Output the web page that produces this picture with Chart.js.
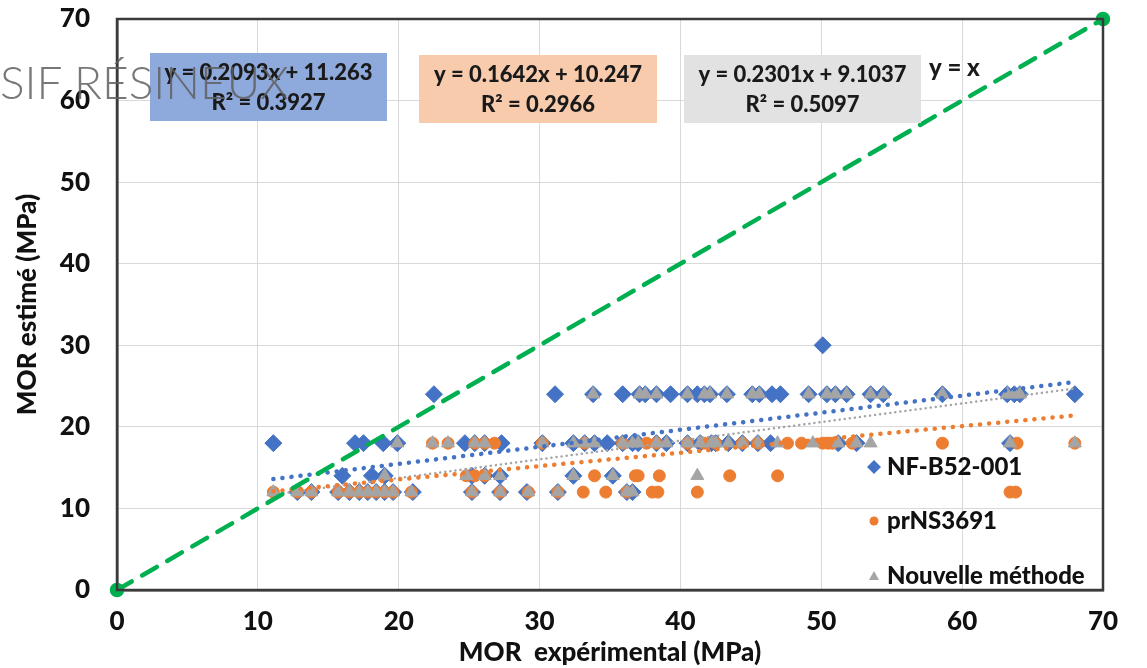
<!DOCTYPE html>
<html lang="fr">
<head>
<meta charset="utf-8">
<title>MOR estimé vs MOR expérimental</title>
<script src="https://cdn.jsdelivr.net/npm/chart.js@4/dist/chart.umd.min.js"></script>
<style>
  html, body { margin: 0; padding: 0; background: #fff; }
  #wrap { position: relative; width: 1147px; height: 668px; }
  #watermark {
    position: absolute; left: 0; top: 54px;
    font-family: Lato, "Open Sans", sans-serif; font-weight: 300; font-size: 46px;
    color: rgba(95, 95, 95, 0.85); pointer-events: none; white-space: nowrap;
  }
</style>
</head>
<body>
<div id="wrap">
  <canvas id="morChart"></canvas>
  <div id="watermark">SIF RÉSINEUX</div>
</div>
<script>
// Séries : [MOR expérimental, MOR estimé]
const nfB52 = [
  [50.1, 30],
  [22.5, 24], [31.1, 24], [33.8, 24], [35.9, 24], [37.1, 24], [37.5, 24], [38.3, 24], [39.3, 24],
  [40.5, 24], [41.2, 24], [41.7, 24], [42.1, 24], [43.3, 24], [45.1, 24], [45.6, 24], [46.5, 24],
  [47.1, 24], [49.1, 24], [50.4, 24], [51.0, 24], [51.8, 24], [53.5, 24], [54.4, 24], [58.6, 24],
  [63.2, 24], [63.7, 24], [64.1, 24], [68.0, 24],
  [11.1, 18], [16.9, 18], [17.5, 18], [18.9, 18], [19.9, 18], [24.7, 18], [25.4, 18], [26.1, 18],
  [27.3, 18], [30.2, 18], [32.4, 18], [33.2, 18], [33.9, 18], [34.8, 18], [35.9, 18], [36.6, 18],
  [37.0, 18], [38.3, 18], [39.0, 18], [40.5, 18], [41.4, 18], [42.2, 18], [42.5, 18], [43.4, 18],
  [44.4, 18], [45.5, 18], [46.4, 18], [51.2, 18], [52.5, 18], [63.4, 18],
  [16.0, 14], [18.1, 14], [19.0, 14], [25.2, 14], [26.1, 14], [27.2, 14], [32.4, 14], [35.2, 14],
  [12.8, 12], [13.8, 12], [15.7, 12], [16.5, 12], [17.2, 12], [17.8, 12], [18.4, 12], [19.0, 12],
  [19.6, 12], [21.0, 12], [25.2, 12], [27.2, 12], [29.1, 12], [31.3, 12], [36.2, 12], [36.6, 12]
];

const prNS3691 = [
  [22.4, 18], [23.5, 18], [25.4, 18], [26.1, 18], [26.8, 18], [30.2, 18], [33.2, 18], [35.9, 18],
  [37.6, 18], [38.3, 18], [40.5, 18], [41.7, 18], [42.5, 18], [44.4, 18], [45.5, 18], [47.6, 18],
  [48.6, 18], [50.1, 18], [50.5, 18], [50.8, 18], [52.2, 18], [58.6, 18], [63.9, 18], [68.0, 18],
  [24.8, 14], [25.4, 14], [26.1, 14], [33.9, 14], [36.8, 14], [37.0, 14], [38.5, 14], [43.5, 14],
  [46.9, 14],
  [11.1, 12], [12.8, 12], [13.8, 12], [15.7, 12], [16.5, 12], [17.2, 12], [17.8, 12], [18.4, 12],
  [19.0, 12], [19.6, 12], [20.9, 12], [25.2, 12], [27.2, 12], [29.2, 12], [31.3, 12], [33.1, 12],
  [34.7, 12], [36.2, 12], [38.0, 12], [38.4, 12], [41.2, 12], [63.4, 12], [63.8, 12]
];

const nouvelleMethode = [
  [33.8, 24], [37.1, 24], [37.5, 24], [38.3, 24], [40.5, 24], [41.7, 24], [42.1, 24], [43.3, 24],
  [45.1, 24], [45.6, 24], [49.1, 24], [50.4, 24], [51.0, 24], [51.8, 24], [53.5, 24], [54.4, 24],
  [58.6, 24], [63.2, 24], [63.7, 24], [64.1, 24],
  [19.9, 18], [22.4, 18], [23.5, 18], [25.4, 18], [26.1, 18], [30.2, 18], [32.4, 18], [33.2, 18],
  [33.9, 18], [35.9, 18], [36.6, 18], [37.0, 18], [38.3, 18], [39.0, 18], [40.5, 18], [41.4, 18],
  [42.2, 18], [42.5, 18], [43.4, 18], [44.4, 18], [45.5, 18], [46.9, 18], [49.4, 18], [51.2, 18],
  [52.5, 18], [53.5, 18], [63.4, 18], [68.0, 18],
  [19.0, 14], [24.8, 14], [26.1, 14], [27.2, 14], [32.4, 14], [35.2, 14], [41.2, 14],
  [11.1, 12], [12.8, 12], [13.8, 12], [15.7, 12], [16.5, 12], [17.2, 12], [17.8, 12], [18.4, 12],
  [19.0, 12], [19.6, 12], [20.9, 12], [25.2, 12], [27.2, 12], [29.2, 12], [31.3, 12], [36.2, 12],
  [36.6, 12]
];

// Courbes de tendance (extrémités) et droite y = x
const trendNF = [[11.1, 13.6], [68.0, 25.5]];
const trendPR = [[11.1, 12.1], [68.0, 21.4]];
const trendNM = [[11.1, 11.7], [68.0, 24.7]];
const lineYX = [[0, 0], [70, 70]];

const eqNF = ["y = 0.2093x + 11.263", "R² = 0.3927"];
const eqPR = ["y = 0.1642x + 10.247", "R² = 0.2966"];
const eqNM = ["y = 0.2301x + 9.1037", "R² = 0.5097"];

const axisTicks = [0, 10, 20, 30, 40, 50, 60, 70];

const FONT = "Lato, 'Open Sans', sans-serif";
const BLUE = "#4472C4";
const ORANGE = "#ED7D31";
const GREY = "#A5A5A5";
const GREEN = "#00B050";

function toPts(arr) {
  return arr.map(([x, y]) => ({ x, y }));
}

// Boîtes d'équations, légende interne et cadre
const decorPlugin = {
  id: "decor",
  afterDraw(chart) {
    const ctx = chart.ctx;
    const a = chart.chartArea;
    ctx.save();

    // cadre du graphique
    ctx.strokeStyle = "#3a3a3a";
    ctx.lineWidth = 2.5;
    ctx.strokeRect(a.left, a.top, a.right - a.left, a.bottom - a.top);

    // boîtes d'équations
    const boxes = [
      { x: 150, y: 53, w: 237, h: 68, fill: "#8EA9DB", lines: eqNF },
      { x: 419, y: 55, w: 238, h: 68, fill: "#F8CBAD", lines: eqPR },
      { x: 684, y: 55, w: 237, h: 68, fill: "#E2E2E2", lines: eqNM },
    ];
    ctx.font = "900 22px " + FONT;
    ctx.textAlign = "center";
    ctx.textBaseline = "middle";
    boxes.forEach((b) => {
      ctx.fillStyle = b.fill;
      ctx.fillRect(b.x, b.y, b.w, b.h);
      ctx.fillStyle = "#1a1a1a";
      ctx.fillText(b.lines[0], b.x + b.w / 2, b.y + 20);
      ctx.fillText(b.lines[1], b.x + b.w / 2, b.y + 50);
    });
    ctx.font = "900 24px " + FONT;
    ctx.textAlign = "left";
    ctx.fillText("y = x", 929, 68);

    // légende
    const items = [
      { label: "NF-B52-001", color: BLUE, shape: "diamond", y: 467 },
      { label: "prNS3691", color: ORANGE, shape: "circle", y: 521 },
      { label: "Nouvelle méthode", color: GREY, shape: "triangle", y: 576 },
    ];
    ctx.font = "900 24px " + FONT;
    items.forEach((it) => {
      const cx = 874;
      ctx.fillStyle = it.color;
      ctx.beginPath();
      if (it.shape === "diamond") {
        ctx.moveTo(cx - 7, it.y);
        ctx.lineTo(cx, it.y - 7);
        ctx.lineTo(cx + 7, it.y);
        ctx.lineTo(cx, it.y + 7);
      } else if (it.shape === "circle") {
        ctx.arc(cx, it.y, 4.5, 0, Math.PI * 2);
      } else {
        ctx.moveTo(cx, it.y - 5);
        ctx.lineTo(cx + 5, it.y + 4);
        ctx.lineTo(cx - 5, it.y + 4);
      }
      ctx.closePath();
      ctx.fill();
      ctx.fillStyle = "#111";
      ctx.fillText(it.label, 887, it.y);
    });

    ctx.restore();
  },
};

const ctx = document.getElementById("morChart").getContext("2d");

new Chart(ctx, {
  type: "scatter",
  data: {
    datasets: [
      {
        label: "y = x",
        data: toPts(lineYX),
        showLine: true,
        clip: false,
        borderColor: GREEN,
        borderWidth: 4.5,
        borderDash: [17, 12],
        borderCapStyle: "round",
        pointRadius: 5,
        pointBackgroundColor: GREEN,
        pointBorderColor: GREEN,
        order: -4,
      },
      {
        label: "Tendance NF-B52-001",
        data: toPts(trendNF),
        showLine: true,
        borderColor: BLUE,
        borderWidth: 4.5,
        borderDash: [0.1, 9],
        borderCapStyle: "round",
        pointRadius: 0,
        order: -3,
      },
      {
        label: "Tendance prNS3691",
        data: toPts(trendPR),
        showLine: true,
        borderColor: ORANGE,
        borderWidth: 4.5,
        borderDash: [0.1, 9],
        borderCapStyle: "round",
        pointRadius: 0,
        order: -2,
      },
      {
        label: "Tendance Nouvelle méthode",
        data: toPts(trendNM),
        showLine: true,
        borderColor: GREY,
        borderWidth: 2.5,
        borderDash: [0.1, 5],
        borderCapStyle: "round",
        pointRadius: 0,
        order: -1,
      },
      {
        label: "Nouvelle méthode",
        data: toPts(nouvelleMethode),
        pointStyle: "triangle",
        pointRadius: 7.5,
        pointBackgroundColor: GREY,
        pointBorderColor: GREY,
        pointBorderWidth: 1,
        order: 0,
      },
      {
        label: "prNS3691",
        data: toPts(prNS3691),
        pointStyle: "circle",
        pointRadius: 6,
        pointBackgroundColor: ORANGE,
        pointBorderColor: ORANGE,
        pointBorderWidth: 1,
        order: 1,
      },
      {
        label: "NF-B52-001",
        data: toPts(nfB52),
        pointStyle: "rectRot",
        pointRadius: 8.5,
        pointBackgroundColor: BLUE,
        pointBorderColor: BLUE,
        pointBorderWidth: 1,
        order: 2,
      },
    ],
  },
  options: {
    responsive: true,
    maintainAspectRatio: false,
    animation: false,
    layout: { padding: { left: 0, right: 44, top: 19, bottom: 0 }, autoPadding: false },
    plugins: {
      legend: { display: false },
      tooltip: { enabled: false },
    },
    scales: {
      x: {
        type: "linear",
        min: 0,
        max: 70,
        afterBuildTicks: (scale) => { scale.ticks = axisTicks.map((v) => ({ value: v })); },
        afterFit: (scale) => {
          scale.height = 78;
          scale.paddingLeft = 0;
          scale.paddingRight = 0;
        },
        grid: { color: "#D9D9D9", lineWidth: 1, drawTicks: false },
        border: { display: true, color: "#3a3a3a", width: 2.5 },
        ticks: { color: "#111", padding: 16, font: { family: FONT, size: 26, weight: "900" } },
        title: {
          display: true,
          text: "MOR  expérimental (MPa)",
          color: "#111",
          padding: { top: 0, bottom: 0 },
          font: { family: FONT, size: 26, weight: "900" },
        },
      },
      y: {
        type: "linear",
        min: 0,
        max: 70,
        afterBuildTicks: (scale) => { scale.ticks = axisTicks.map((v) => ({ value: v })); },
        afterFit: (scale) => {
          scale.width = 117;
          scale.paddingTop = 0;
          scale.paddingBottom = 0;
        },
        grid: { color: "#D9D9D9", lineWidth: 1, drawTicks: false },
        border: { display: true, color: "#3a3a3a", width: 2.5 },
        ticks: { color: "#111", padding: 27, font: { family: FONT, size: 26, weight: "900" } },
        title: {
          display: true,
          text: "MOR estimé (MPa)",
          color: "#111",
          padding: { top: 12, bottom: 0 },
          font: { family: FONT, size: 26, weight: "900" },
        },
      },
    },
  },
  plugins: [decorPlugin],
});
</script>
</body>
</html>
